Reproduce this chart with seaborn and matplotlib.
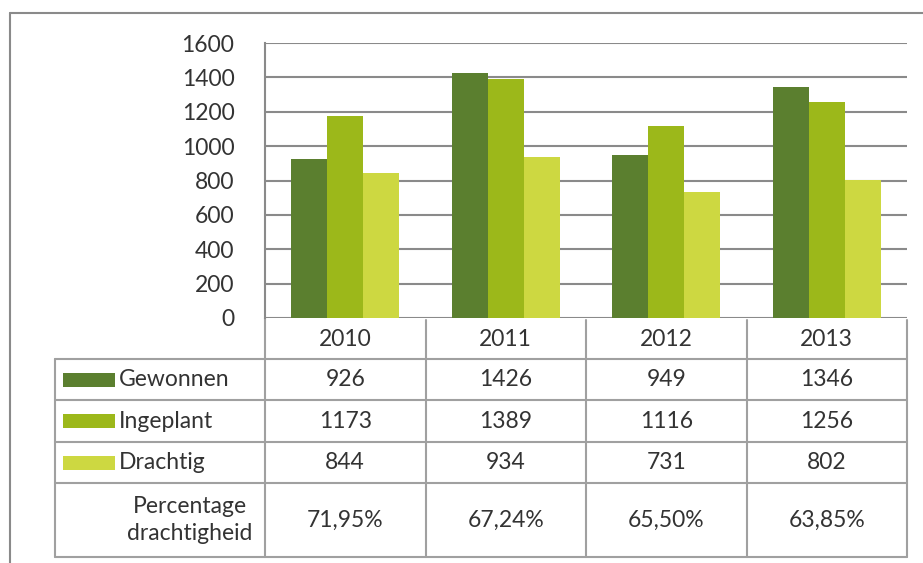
import pandas as pd
import matplotlib
matplotlib.use('Agg')
import matplotlib.pyplot as plt
import matplotlib.transforms as mtransforms
from matplotlib.patches import Rectangle
import seaborn as sns

# data
years = ['2010', '2011', '2012', '2013']
series = ['Gewonnen', 'Ingeplant', 'Drachtig']
gewonnen = [926, 1426, 949, 1346]
ingeplant = [1173, 1389, 1116, 1256]
drachtig = [844, 934, 731, 802]
percentage = ['71,95%', '67,24%', '65,50%', '63,85%']
colors = ['#5B7F2F', '#9CB81A', '#CDD841']

values = [gewonnen, ingeplant, drachtig]
df = pd.DataFrame({
    'jaar': years * 3,
    'reeks': [s for s in series for _ in years],
    'aantal': gewonnen + ingeplant + drachtig,
})

sns.set_style('white')
plt.rcParams['font.family'] = ['Lato', 'DejaVu Sans']

W, H = 923, 563
fig = plt.figure(figsize=(W / 100, H / 100), dpi=100)


def box(x0, y0, x1, y1):
    # pixel box -> figure fraction
    return [x0 / W, 1 - y1 / H, (x1 - x0) / W, (y1 - y0) / H]


txt = '#333333'
grid = '#8a8a8a'
fs = 16.5

ax = fig.add_axes(box(265, 43, 907, 318))
ax.set_facecolor('none')
sns.barplot(data=df, x='jaar', y='aantal', hue='reeks', palette=colors,
            width=0.675, linewidth=0, saturation=1, legend=False, ax=ax)
ax.set_ylim(0, 1600)
ax.set_yticks(range(0, 1601, 200))
ax.set_xlim(-0.5, 3.5)
ax.yaxis.grid(True, color=grid, linewidth=1.5)
ax.set_axisbelow(True)
for s in ['top', 'right', 'bottom']:
    ax.spines[s].set_visible(False)
ax.spines['left'].set_color(grid)
ax.spines['left'].set_linewidth(1.5)
ax.tick_params(axis='y', length=0, pad=22, labelsize=fs, labelcolor=txt)
ax.set_xticks([])
ax.set_xlabel('')
ax.set_ylabel('')

# overlay in pixel coordinates for frame and data table
ov = fig.add_axes([0, 0, 1, 1], zorder=-1)
ov.set_xlim(0, W)
ov.set_ylim(H, 0)
ov.axis('off')
trans = mtransforms.blended_transform_factory(ax.transData, ov.transData)

# outer frame
ov.plot([10, 10], [13, 563], color=grid, lw=1.5)
ov.plot([10, 923], [13, 13], color=grid, lw=1.5)

# table lines
tl = '#a0a0a0'
rows_y = [359, 400, 442, 483, 557]
for y in rows_y:
    ov.plot([55, 907], [y, y], color=tl, lw=1.5)
ov.plot([55, 55], [359, 557], color=tl, lw=1.5)
ov.plot([-0.5, -0.5], [318, 557], color=tl, lw=1.5, transform=trans)
for i in range(len(years)):
    ov.plot([i + 0.5, i + 0.5], [320, 557], color=tl, lw=1.5, transform=trans)

# header years
for i, yr in enumerate(years):
    ov.text(i, 339, yr, ha='center', va='center', fontsize=fs, color=txt, transform=trans)

# series rows
for r, (name, vals, col) in enumerate(zip(series, values, colors)):
    yc = (rows_y[r] + rows_y[r + 1]) / 2
    ov.add_patch(Rectangle((63, yc - 7), 52, 14, color=col, lw=0))
    ov.text(119, yc, name, ha='left', va='center', fontsize=fs, color=txt)
    for i, v in enumerate(vals):
        ov.text(i, yc, str(v), ha='center', va='center', fontsize=fs, color=txt, transform=trans)

# percentage row
yc = (rows_y[3] + rows_y[4]) / 2
ov.text(190, yc, 'Percentage\ndrachtigheid', ha='center', va='center', multialignment='center',
        fontsize=fs, color=txt, linespacing=1.3)
for i, p in enumerate(percentage):
    ov.text(i, yc, p, ha='center', va='center', fontsize=fs, color=txt, transform=trans)

fig.savefig('out.png', dpi=100)
